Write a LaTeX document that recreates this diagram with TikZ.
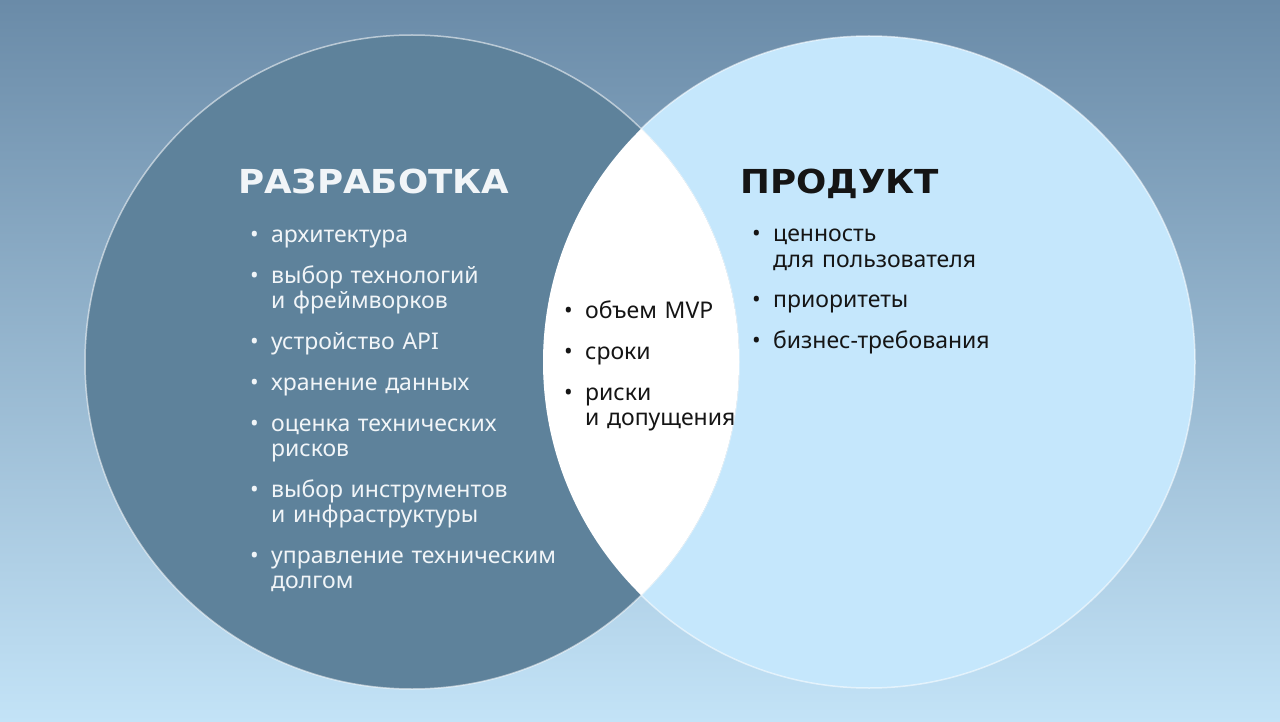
\documentclass[tikz,border=0pt]{standalone}
\usepackage{fontspec}
\setmainfont{Noto Sans}
\newfontfamily\headfont[FakeStretch=1.08]{DejaVu Sans}

\definecolor{bgtop}{HTML}{6A8BA8}
\definecolor{bgmid}{HTML}{96BAD4}
\definecolor{bgbot}{HTML}{C3E3F7}
\definecolor{devfill}{HTML}{5E829B}
\definecolor{prodfill}{HTML}{C5E7FC}
\definecolor{lighttext}{HTML}{F1F5F8}
\definecolor{darktext}{HTML}{151515}

\newcommand\pkt{\makebox[21pt][l]{•}}
\newcommand\pktind{\hspace*{21pt}}

\begin{document}
\begin{tikzpicture}[x=1pt,y=-1pt,
  rim/.style={draw=white,draw opacity=0.55,line width=1.5pt},
  head/.style={anchor=base west,inner sep=0pt,font=\headfont\bfseries\fontsize{33}{33}\selectfont},
  lst/.style={anchor=base west,inner sep=0pt,text width=340pt,align=left,font=\fontsize{23}{25}\selectfont}]

\useasboundingbox (0,0) rectangle (1280,722);
\shade[top color=bgtop,middle color=bgmid,bottom color=bgbot] (0,0) rectangle (1280,722);

\fill[prodfill] (869,362) circle (326pt);
\draw[rim] (869,362) circle (326pt);

\fill[devfill] (412,362) circle (327pt);
\draw[rim] (412,362) circle (327pt);

\begin{scope}
\clip (412,362) circle (327pt);
\fill[white] (869,362) circle (326pt);
\end{scope}

\node[head,text=lighttext] (razrabotka) at (238,194) {РАЗРАБОТКА};
\node[head,text=darktext] (produkt) at (740,194) {ПРОДУКТ};

\node[lst,text=lighttext] (devlist) at (250,243) {\pkt архитектура\\[16pt]
\pkt выбор технологий\\ \pktind и фреймворков\\[16pt]
\pkt устройство API\\[16pt]
\pkt хранение данных\\[16pt]
\pkt оценка технических\\ \pktind рисков\\[16pt]
\pkt выбор инструментов\\ \pktind и инфраструктуры\\[16pt]
\pkt управление техническим\\ \pktind долгом};

\node[lst,text=darktext] (midlist) at (564,318) {\pkt объем MVP\\[16pt]
\pkt сроки\\[16pt]
\pkt риски\\ \pktind и допущения};

\node[lst,text=darktext] (prodlist) at (752,242) {\pkt ценность\\ \pktind для пользователя\\[16pt]
\pkt приоритеты\\[16pt]
\pkt бизнес-требования};

\end{tikzpicture}
\end{document}
